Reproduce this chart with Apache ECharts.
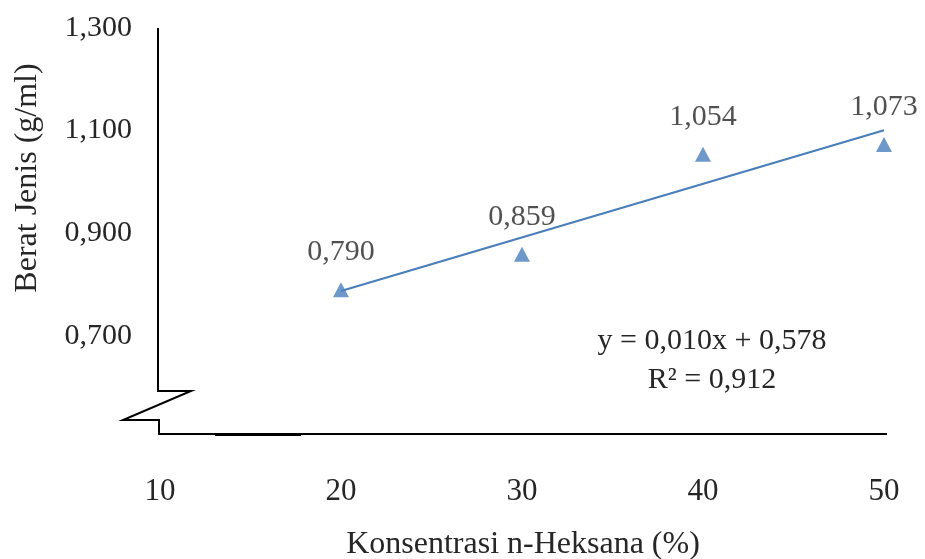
<!DOCTYPE html>
<html>
<head>
<meta charset="utf-8">
<script src="https://cdn.jsdelivr.net/npm/echarts@6/dist/echarts.min.js"></script>
<style>html,body{margin:0;padding:0;background:#fff}#c{width:925px;height:559px}</style>
</head>
<body>
<div id="c"></div>
<script>
const concentrations = [20, 30, 40, 50];
const densities = [0.790, 0.859, 1.054, 1.073];
const xTicks = [10, 20, 30, 40, 50];
const yTickLabels = [0.7, 0.9, 1.1, 1.3];
const equationText = 'y = 0,010x + 0,578';
const r2Text = 'R² = 0,912';
const xTitle = 'Konsentrasi n-Heksana (%)';
const yTitle = 'Berat Jenis (g/ml)';

const FONT = '"Liberation Serif", "DejaVu Serif", serif';
const TXT = '#262626';
const BLUE = '#4A7EBB';

// least-squares trendline from the data
const n = concentrations.length;
const mx = concentrations.reduce((a, b) => a + b, 0) / n;
const my = densities.reduce((a, b) => a + b, 0) / n;
let sxy = 0, sxx = 0;
for (let i = 0; i < n; i++) { sxy += (concentrations[i] - mx) * (densities[i] - my); sxx += (concentrations[i] - mx) ** 2; }
const slope = sxy / sxx, intercept = my - slope * mx;
const xs = [concentrations[0], concentrations[n - 1]];
const trend = xs.map(x => [x, intercept + slope * x]);

const fmt = v => v.toFixed(3).replace('.', ',');

const chart = echarts.init(document.getElementById('c'));
chart.setOption({
  animation: false,
  grid: { left: 160, right: 41, top: 28, bottom: 120.6 },
  xAxis: {
    type: 'value', min: 10, max: 50, interval: 10,
    axisLine: { show: false }, axisTick: { show: false }, splitLine: { show: false },
    axisLabel: { margin: 38, fontFamily: FONT, fontSize: 31, color: TXT,
      formatter: v => xTicks.includes(v) ? String(v) : '' }
  },
  yAxis: {
    type: 'value', min: 0.5, max: 1.3, interval: 0.1,
    axisLine: { show: false }, axisTick: { show: false }, splitLine: { show: false },
    axisLabel: { margin: 28, fontFamily: FONT, fontSize: 30, color: TXT,
      formatter: v => yTickLabels.some(t => Math.abs(t - v) < 1e-6) ? fmt(v) : '' }
  },
  series: [
    {
      type: 'line', data: trend, symbol: 'none', silent: true,
      lineStyle: { color: BLUE, width: 2.2 }, z: 2
    },
    {
      type: 'scatter', data: concentrations.map((x, i) => [x, densities[i]]),
      symbol: 'triangle', symbolSize: [16, 15],
      itemStyle: { color: BLUE }, z: 3,
      label: { show: true, position: 'top', distance: 15, fontFamily: FONT, fontSize: 30, color: TXT,
        formatter: p => fmt(p.value[1]) }
    }
  ],
  graphic: [
    { type: 'polyline', shape: { points: [[158, 28], [158, 391], [191, 391], [123, 420], [159, 420], [159, 434], [887, 434]] },
      style: { stroke: '#000', lineWidth: 2, fill: null } },
    { type: 'line', shape: { x1: 215, y1: 434.5, x2: 301, y2: 434.5 }, style: { stroke: '#000', lineWidth: 3 } },
    { type: 'text', x: 712, y: 341, style: { text: equationText, font: '30px ' + FONT, fill: TXT, textAlign: 'center', textVerticalAlign: 'middle' } },
    { type: 'text', x: 712, y: 380, style: { text: r2Text, font: '30px ' + FONT, fill: TXT, textAlign: 'center', textVerticalAlign: 'middle' } },
    { type: 'text', x: 523, y: 545, style: { text: xTitle, font: '32px ' + FONT, fill: TXT, textAlign: 'center', textVerticalAlign: 'middle' } },
    { type: 'text', x: 28, y: 178, rotation: Math.PI / 2, style: { text: yTitle, font: '32px ' + FONT, fill: TXT, textAlign: 'center', textVerticalAlign: 'middle' } }
  ]
});
</script>
</body>
</html>
